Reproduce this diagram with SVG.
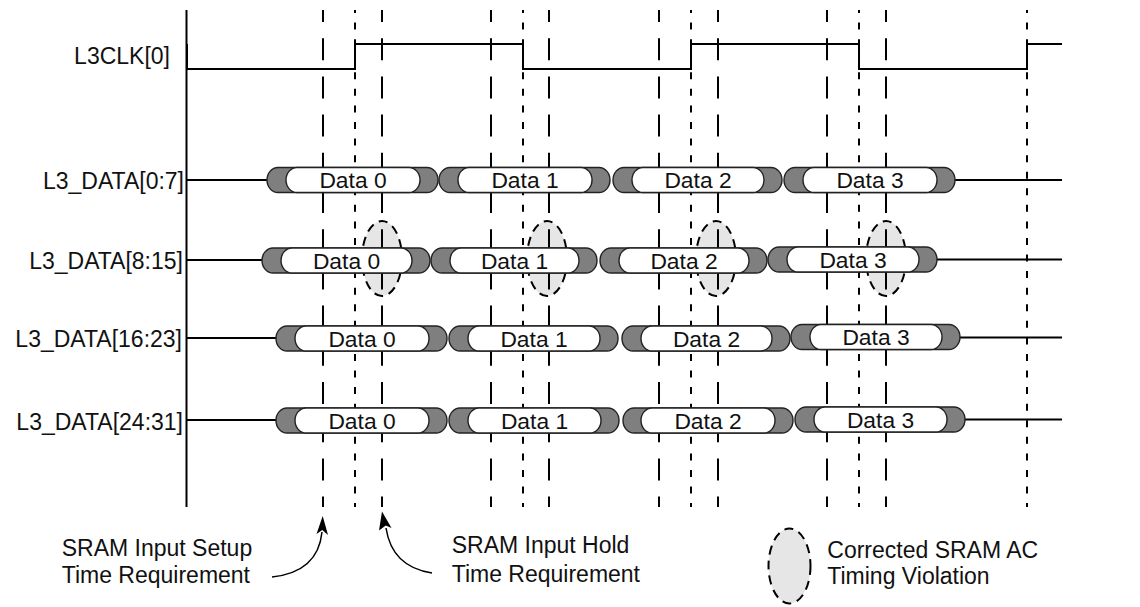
<svg xmlns="http://www.w3.org/2000/svg" width="1140" height="607" viewBox="0 0 1140 607">
<style>
.lbl{font-family:"Liberation Sans",Arial,sans-serif;font-size:23px;fill:#111}
.dt{font-family:"Liberation Sans",Arial,sans-serif;font-size:22.8px;fill:#111;text-anchor:middle}
.sig{fill:none;stroke:#000;stroke-width:2}
.ld{stroke:#000;stroke-width:2;stroke-dasharray:22 16.2;stroke-dashoffset:10}
.sd{stroke:#000;stroke-width:2;stroke-dasharray:7 9.57;stroke-dashoffset:4}
.cap{fill:#7f7f7f;stroke:#222;stroke-width:1.4}
.in{fill:#fff;stroke:#222;stroke-width:1.4}
.viol{fill:#e6e6e6;stroke:#000;stroke-width:2;stroke-dasharray:9 6}
</style>
<rect width="1140" height="607" fill="#fff"/>

<g id="violations">
<ellipse class="viol" cx="382" cy="258.5" rx="20" ry="37.5"/>
<ellipse class="viol" cx="547" cy="258.5" rx="20" ry="37.5"/>
<ellipse class="viol" cx="716" cy="258.5" rx="20" ry="37.5"/>
<ellipse class="viol" cx="886" cy="258.5" rx="20" ry="37.5"/>
</g>

<g id="timing-lines">
<line class="ld" x1="323" y1="10" x2="323" y2="507"/>
<line class="ld" x1="382" y1="10" x2="382" y2="507"/>
<line class="ld" x1="491" y1="10" x2="491" y2="507"/>
<line class="ld" x1="549" y1="10" x2="549" y2="507"/>
<line class="ld" x1="659" y1="10" x2="659" y2="507"/>
<line class="ld" x1="718" y1="10" x2="718" y2="507"/>
<line class="ld" x1="827" y1="10" x2="827" y2="507"/>
<line class="ld" x1="886" y1="10" x2="886" y2="507"/>
<line class="sd" x1="355" y1="10" x2="355" y2="507"/>
<line class="sd" x1="523" y1="10" x2="523" y2="507"/>
<line class="sd" x1="691" y1="10" x2="691" y2="507"/>
<line class="sd" x1="859" y1="10" x2="859" y2="507"/>
<line class="sd" x1="1027" y1="10" x2="1027" y2="507"/>
</g>

<g id="axis">
<line x1="186.5" y1="10" x2="186.5" y2="507" stroke="#000" stroke-width="2"/>
</g>

<g id="L3CLK">
<text class="lbl" x="170" y="63.5" text-anchor="end">L3CLK[0]</text>
<path class="sig" d="M187,44 V69 H355 V44 H523 V69 H691 V44 H859 V69 H1027 V44 H1062"/>
</g>

<g id="L3_DATA_0_7">
<text class="lbl" x="184" y="189" text-anchor="end">L3_DATA[0:7]</text>
<path class="sig" d="M187,180 H268 M954,180 H1062"/>
<path class="cap" d="M278,167.5 H427 A11 12.5 0 0 1 427,192.5 H278 A11 12.5 0 0 1 278,167.5 Z"/>
<path class="in" d="M297,167.5 H409 A11 12.5 0 0 1 409,192.5 H297 A11 12.5 0 0 1 297,167.5 Z"/>
<text class="dt" x="353" y="188">Data 0</text>
<path class="cap" d="M450,167.5 H599 A11 12.5 0 0 1 599,192.5 H450 A11 12.5 0 0 1 450,167.5 Z"/>
<path class="in" d="M469,167.5 H581 A11 12.5 0 0 1 581,192.5 H469 A11 12.5 0 0 1 469,167.5 Z"/>
<text class="dt" x="525" y="188">Data 1</text>
<path class="cap" d="M624,167.5 H771 A11 12.5 0 0 1 771,192.5 H624 A11 12.5 0 0 1 624,167.5 Z"/>
<path class="in" d="M643,167.5 H753 A11 12.5 0 0 1 753,192.5 H643 A11 12.5 0 0 1 643,167.5 Z"/>
<text class="dt" x="698" y="188">Data 2</text>
<path class="cap" d="M795,167.5 H944 A11 12.5 0 0 1 944,192.5 H795 A11 12.5 0 0 1 795,167.5 Z"/>
<path class="in" d="M814,167.5 H926 A11 12.5 0 0 1 926,192.5 H814 A11 12.5 0 0 1 814,167.5 Z"/>
<text class="dt" x="870" y="188">Data 3</text>
</g>

<g id="L3_DATA_8_15">
<text class="lbl" x="183" y="269.3" text-anchor="end">L3_DATA[8:15]</text>
<path class="sig" d="M187,260 H263 M936,259.5 H1062"/>
<path class="cap" d="M273,248 H419 A11 12.5 0 0 1 419,273 H273 A11 12.5 0 0 1 273,248 Z"/>
<path class="in" d="M292,248 H401 A11 12.5 0 0 1 401,273 H292 A11 12.5 0 0 1 292,248 Z"/>
<text class="dt" x="346.5" y="268.5">Data 0</text>
<path class="cap" d="M442,248 H586 A11 12.5 0 0 1 586,273 H442 A11 12.5 0 0 1 442,248 Z"/>
<path class="in" d="M461,248 H568 A11 12.5 0 0 1 568,273 H461 A11 12.5 0 0 1 461,248 Z"/>
<text class="dt" x="514.5" y="268.5">Data 1</text>
<path class="cap" d="M611,248 H756 A11 12.5 0 0 1 756,273 H611 A11 12.5 0 0 1 611,248 Z"/>
<path class="in" d="M630,248 H738 A11 12.5 0 0 1 738,273 H630 A11 12.5 0 0 1 630,248 Z"/>
<text class="dt" x="684" y="268.5">Data 2</text>
<path class="cap" d="M779,247 H926 A11 12.5 0 0 1 926,272 H779 A11 12.5 0 0 1 779,247 Z"/>
<path class="in" d="M798,247 H908 A11 12.5 0 0 1 908,272 H798 A11 12.5 0 0 1 798,247 Z"/>
<text class="dt" x="853" y="267.5">Data 3</text>
</g>

<g id="L3_DATA_16_23">
<text class="lbl" x="182" y="347.3" text-anchor="end">L3_DATA[16:23]</text>
<path class="sig" d="M187,338 H277 M959,337.5 H1062"/>
<path class="cap" d="M287,326 H436 A11 12.5 0 0 1 436,351 H287 A11 12.5 0 0 1 287,326 Z"/>
<path class="in" d="M306,326 H418 A11 12.5 0 0 1 418,351 H306 A11 12.5 0 0 1 306,326 Z"/>
<text class="dt" x="362" y="346.5">Data 0</text>
<path class="cap" d="M460,326 H607 A11 12.5 0 0 1 607,351 H460 A11 12.5 0 0 1 460,326 Z"/>
<path class="in" d="M479,326 H589 A11 12.5 0 0 1 589,351 H479 A11 12.5 0 0 1 479,326 Z"/>
<text class="dt" x="534" y="346.5">Data 1</text>
<path class="cap" d="M633,326 H779 A11 12.5 0 0 1 779,351 H633 A11 12.5 0 0 1 633,326 Z"/>
<path class="in" d="M652,326 H761 A11 12.5 0 0 1 761,351 H652 A11 12.5 0 0 1 652,326 Z"/>
<text class="dt" x="706.5" y="346.5">Data 2</text>
<path class="cap" d="M802,324.5 H949 A11 12.5 0 0 1 949,349.5 H802 A11 12.5 0 0 1 802,324.5 Z"/>
<path class="in" d="M821,324.5 H931 A11 12.5 0 0 1 931,349.5 H821 A11 12.5 0 0 1 821,324.5 Z"/>
<text class="dt" x="876" y="345">Data 3</text>
</g>

<g id="L3_DATA_24_31">
<text class="lbl" x="183" y="430" text-anchor="end">L3_DATA[24:31]</text>
<path class="sig" d="M187,420 H277 M964,419.5 H1062"/>
<path class="cap" d="M287,408 H436 A11 12.5 0 0 1 436,433 H287 A11 12.5 0 0 1 287,408 Z"/>
<path class="in" d="M306,408 H418 A11 12.5 0 0 1 418,433 H306 A11 12.5 0 0 1 306,408 Z"/>
<text class="dt" x="362" y="428.5">Data 0</text>
<path class="cap" d="M460,408 H608 A11 12.5 0 0 1 608,433 H460 A11 12.5 0 0 1 460,408 Z"/>
<path class="in" d="M479,408 H590 A11 12.5 0 0 1 590,433 H479 A11 12.5 0 0 1 479,408 Z"/>
<text class="dt" x="534.5" y="428.5">Data 1</text>
<path class="cap" d="M634,408 H782 A11 12.5 0 0 1 782,433 H634 A11 12.5 0 0 1 634,408 Z"/>
<path class="in" d="M652,408 H764 A11 12.5 0 0 1 764,433 H652 A11 12.5 0 0 1 652,408 Z"/>
<text class="dt" x="708" y="428.5">Data 2</text>
<path class="cap" d="M806,407 H954 A11 12.5 0 0 1 954,432 H806 A11 12.5 0 0 1 806,407 Z"/>
<path class="in" d="M825,407 H936 A11 12.5 0 0 1 936,432 H825 A11 12.5 0 0 1 825,407 Z"/>
<text class="dt" x="880.5" y="427.5">Data 3</text>
</g>

<g id="connectors">
<path d="M272,577 Q318,572 322,532" fill="none" stroke="#000" stroke-width="1.5"/>
<path d="M322.7,516 L328,535 L322.3,530 L316.5,534 Z" fill="#000"/>
<path d="M432,573 Q392,567 386,528" fill="none" stroke="#000" stroke-width="1.5"/>
<path d="M382,511.5 L391.5,528 L385.8,525.5 L379,530.5 Z" fill="#000"/>
</g>

<g id="setup-note">
<text class="lbl" x="61.7" y="556">SRAM Input Setup</text>
<text class="lbl" x="61.7" y="583.3">Time Requirement</text>
</g>

<g id="hold-note">
<text class="lbl" x="451.7" y="553.3">SRAM Input Hold</text>
<text class="lbl" x="451.7" y="581.7">Time Requirement</text>
</g>

<g id="legend">
<ellipse class="viol" cx="789.5" cy="566" rx="21" ry="37.5"/>
<text class="lbl" x="827.3" y="557.5">Corrected SRAM AC</text>
<text class="lbl" x="827.3" y="583.5">Timing Violation</text>
</g>
</svg>
